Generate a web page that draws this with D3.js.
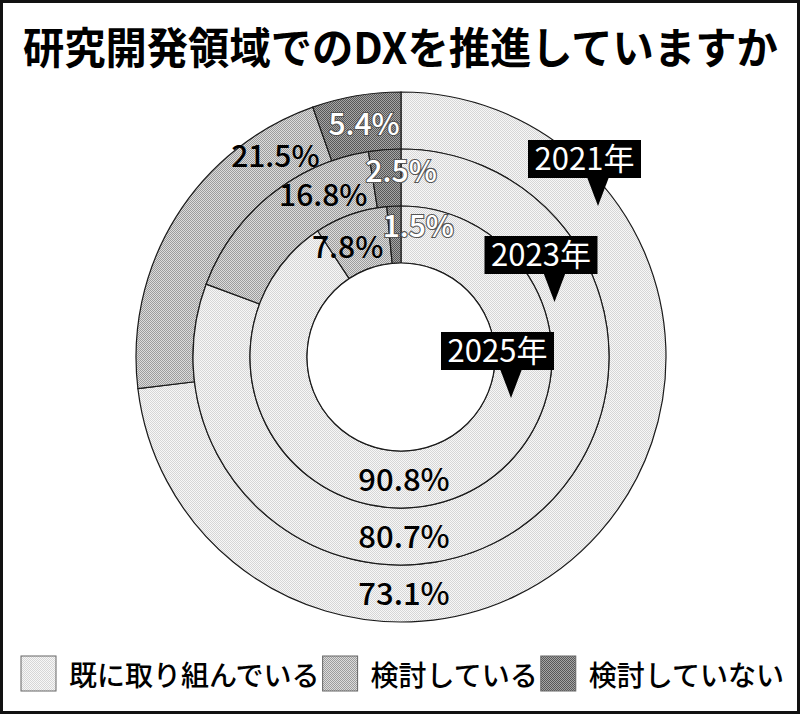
<!DOCTYPE html>
<html>
<head>
<meta charset="utf-8">
<script src="https://cdn.jsdelivr.net/npm/d3@7"></script>
<style>
  body { margin: 0; background: #fff; }
  svg text { font-family: "Noto Sans CJK JP", "Noto Sans", sans-serif; }
</style>
</head>
<body>
<svg id="chart" width="800" height="714"></svg>
<script>
// data
var years = ["2021年", "2023年", "2025年"];
var categories = ["既に取り組んでいる", "検討している", "検討していない"];
var doing = [73.1, 80.7, 90.8];
var considering = [21.5, 16.8, 7.8];
var notConsidering = [5.4, 2.5, 1.5];

var svg = d3.select("#chart");
var w = +svg.attr("width"), h = +svg.attr("height");
var cx = 401, cy = 357;

// halftone-ish patterns
var defs = svg.append("defs");
var pats = [
    { id: "p0", bg: "#f7f7f7", dot: "#d6d6d6" },
    { id: "p1", bg: "#dcdcdc", dot: "#9c9c9c" },
    { id: "p2", bg: "#a6a6a6", dot: "#585858" }
];
pats.forEach(function (p) {
    var pt = defs.append("pattern").attr("id", p.id)
        .attr("patternUnits", "userSpaceOnUse")
        .attr("width", 2).attr("height", 2);
    pt.append("rect").attr("width", 2).attr("height", 2).attr("fill", p.bg);
    pt.append("rect").attr("width", 1).attr("height", 1).attr("fill", p.dot);
    pt.append("rect").attr("x", 1).attr("y", 1).attr("width", 1).attr("height", 1).attr("fill", p.dot);
});
var fill = function (k) { return "url(#p" + k + ")"; };

// frame
svg.append("rect")
    .attr("x", 1.5).attr("y", 1.5)
    .attr("width", w - 3).attr("height", h - 3)
    .attr("fill", "#fff").attr("stroke", "#111").attr("stroke-width", 3);

// title, squeezed horizontally to fit like the original condensed face
var title = svg.append("text")
    .attr("x", 0).attr("y", 0)
    .attr("font-size", 43).attr("font-weight", 700)
    .text("研究開発領域でのDXを推進していますか");
var sx = 755 / title.node().getComputedTextLength();
title.attr("transform", "translate(23,64) scale(" + sx + ",1)");

// ring radii: ring 0 = 2021 (outer)
var rScale = d3.scaleLinear().domain([0, 3]).range([265, 94]);

var pie = d3.pie().sort(null).value(function (d) { return d.v; })
    .startAngle(0).endAngle(2 * Math.PI);

var g = svg.append("g").attr("transform", "translate(" + cx + "," + cy + ")");

years.forEach(function (yr, i) {
    var vals = [doing[i], considering[i], notConsidering[i]].map(function (v, k) {
        return { v: v, k: k };
    });
    var arc = d3.arc().innerRadius(rScale(i + 1)).outerRadius(rScale(i));

    g.append("g").selectAll("path")
        .data(pie(vals))
        .enter()
        .append("path")
        .attr("d", arc)
        .attr("fill", function (d) { return fill(d.data.k); })
        .attr("stroke", "#1a1a1a")
        .attr("stroke-width", 1.2);
});

// hole
g.append("circle").attr("r", rScale(3)).attr("fill", "#fff")
    .attr("stroke", "#1a1a1a").attr("stroke-width", 1.2);

// labels
function pt(angle, r) {
    return [r * Math.sin(angle), -r * Math.cos(angle)];
}
years.forEach(function (yr, i) {
    var vals = [doing[i], considering[i], notConsidering[i]].map(function (v, k) {
        return { v: v, k: k };
    });
    var rm = (rScale(i) + rScale(i + 1)) / 2;
    var slices = pie(vals);

    // already doing: at bottom
    var p0 = pt(Math.PI, rm);
    g.append("text")
        .attr("x", p0[0] + 3).attr("y", p0[1])
        .attr("dy", "0.36em")
        .attr("text-anchor", "middle")
        .attr("font-size", 31).attr("font-weight", 500)
        .text(doing[i] + "%");

    // considering: just before end of slice
    var t1 = g.append("text")
        .attr("text-anchor", "middle")
        .attr("dy", "0.36em")
        .attr("font-size", 30).attr("font-weight", 500)
        .text(considering[i] + "%");
    var half = t1.node().getComputedTextLength() / 2;
    var a1 = slices[1].endAngle - (half + 8) / rm;
    var p1 = pt(a1, rm);
    t1.attr("x", p1[0]).attr("y", p1[1]);

    // not considering
    var s2 = slices[2];
    var t2 = g.append("text")
        .attr("dy", "0.36em")
        .attr("font-size", 30).attr("font-weight", 500)
        .attr("fill", "#fff")
        .attr("stroke", "#555")
        .attr("stroke-width", 2.2)
        .attr("paint-order", "stroke")
        .text(notConsidering[i] + "%");
    var tw = t2.node().getComputedTextLength();
    var arcLen = (s2.endAngle - s2.startAngle) * rm;
    if (arcLen > tw) {
        var pc = pt((s2.startAngle + s2.endAngle) / 2, rm);
        t2.attr("text-anchor", "middle").attr("x", pc[0] + 3).attr("y", pc[1]);
    } else {
        var ps = pt(s2.startAngle, rm + 9);
        t2.attr("text-anchor", "start").attr("x", ps[0] - 6).attr("y", ps[1]);
    }
});

// year callouts
var boxX = d3.scaleLinear().domain([0, 2]).range([528, 441]);
var boxY = d3.scaleLinear().domain([0, 2]).range([140, 332]);
var bw = 113, bh = 38;
years.forEach(function (yr, i) {
    var x = boxX(i), y = boxY(i);
    var cg = svg.append("g");
    cg.append("path")
        .attr("d", "M" + (x + 59) + "," + (y + bh - 1) + "L" + (x + 81) + "," + (y + bh - 1) +
            "L" + (x + 70) + "," + (y + bh + 28) + "Z")
        .attr("fill", "#000");
    cg.append("rect")
        .attr("x", x).attr("y", y).attr("width", bw).attr("height", bh)
        .attr("fill", "#000");
    cg.append("text")
        .attr("x", x + bw / 2).attr("y", y + bh / 2)
        .attr("dy", "0.36em")
        .attr("text-anchor", "middle")
        .attr("font-size", 31)
        .attr("fill", "#fff")
        .text(yr);
});

// legend
var lx = 21;
categories.forEach(function (c, k) {
    svg.append("rect")
        .attr("x", lx).attr("y", 656).attr("width", 35).attr("height", 35)
        .attr("fill", fill(k)).attr("stroke", "#666").attr("stroke-width", 1);
    var t = svg.append("text")
        .attr("x", lx + 48).attr("y", 686)
        .attr("font-size", 28).attr("font-weight", 500)
        .text(c);
    lx = lx + 48 + t.node().getComputedTextLength() + 3;
});
</script>
</body>
</html>
